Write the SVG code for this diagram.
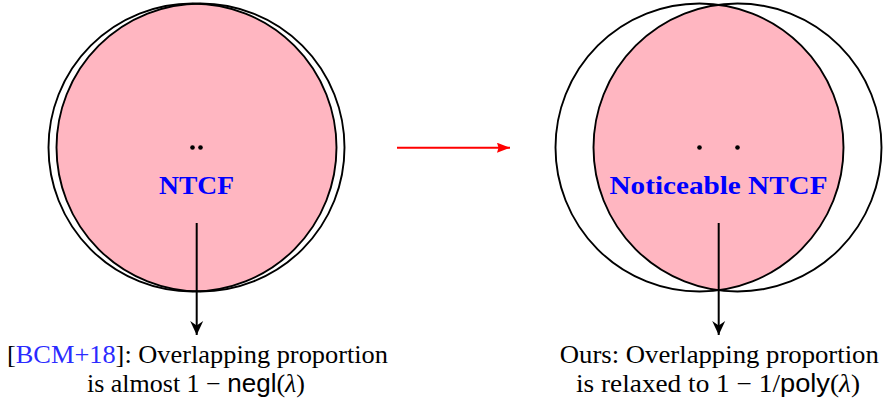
<svg xmlns="http://www.w3.org/2000/svg" width="886" height="402" viewBox="0 0 886 402">
<style>
.ring{fill:none;stroke:#000;stroke-width:1.9}
.lens{fill:#FFB6C1}
.dot{fill:#000}
.lbl{font-family:"Liberation Serif",serif;font-weight:bold;font-size:25px;fill:#0000FF}
.cap{font-family:"Liberation Serif",serif;font-size:25.5px;fill:#000}
.sf{font-family:"Liberation Sans",sans-serif}
.it{font-style:italic}
.cite{fill:#2B2BFF}
.conn{stroke:#000;stroke-width:2;fill:none}
.red{stroke:#FF0000;stroke-width:2;fill:none}
</style>
<defs>
<clipPath id="clipL"><circle cx="200.5" cy="147.5" r="144"/></clipPath>
<clipPath id="clipR"><circle cx="737.5" cy="147.5" r="144"/></clipPath>
<marker id="ah" markerWidth="16" markerHeight="14" refX="14" refY="7" orient="auto" markerUnits="userSpaceOnUse">
<path d="M14,7 L0,0.5 L4.5,7 L0,13.5 Z" fill="#000"/>
</marker>
<marker id="ahr" markerWidth="14" markerHeight="12" refX="13" refY="5" orient="auto" markerUnits="userSpaceOnUse">
<path d="M13,5 L0,0 L1.5,5 L0,10 Z" fill="#FF0000"/>
</marker>
</defs>
<g id="left-ntcf">
<circle class="lens" cx="192.5" cy="147.5" r="144" clip-path="url(#clipL)"/>
<circle class="ring" cx="192.5" cy="147.5" r="144"/>
<circle class="ring" cx="200.5" cy="147.5" r="144"/>
<circle class="dot" cx="192.5" cy="147.5" r="2.3"/>
<circle class="dot" cx="200.5" cy="147.5" r="2.3"/>
<text class="lbl" x="196.5" y="194.3" text-anchor="middle" textLength="75" lengthAdjust="spacingAndGlyphs">NTCF</text>
</g>
<g id="right-ntcf">
<circle class="lens" cx="699.5" cy="147.5" r="144" clip-path="url(#clipR)"/>
<circle class="ring" cx="699.5" cy="147.5" r="144"/>
<circle class="ring" cx="737.5" cy="147.5" r="144"/>
<circle class="dot" cx="699.5" cy="147.5" r="2.3"/>
<circle class="dot" cx="737.5" cy="147.5" r="2.3"/>
<text class="lbl" x="718.5" y="193.8" text-anchor="middle" textLength="218" lengthAdjust="spacingAndGlyphs">Noticeable NTCF</text>
</g>
<g id="left-caption">
<text class="cap" x="197.5" y="363.3" text-anchor="middle" textLength="381" lengthAdjust="spacingAndGlyphs">[<tspan class="cite">BCM+18</tspan>]: Overlapping proportion</text>
<text class="cap" x="196" y="391.7" text-anchor="middle" textLength="218" lengthAdjust="spacingAndGlyphs">is almost 1 − <tspan class="sf">negl</tspan>(<tspan class="it">λ</tspan>)</text>
</g>
<g id="right-caption">
<text class="cap" x="719.3" y="363.3" text-anchor="middle" textLength="319" lengthAdjust="spacingAndGlyphs">Ours: Overlapping proportion</text>
<text class="cap" x="718" y="391.7" text-anchor="middle" textLength="284" lengthAdjust="spacingAndGlyphs">is relaxed to 1 − 1/<tspan class="sf">poly</tspan>(<tspan class="it">λ</tspan>)</text>
</g>
<g id="connectors">
<line class="conn" x1="196.7" y1="223" x2="196.7" y2="335" marker-end="url(#ah)"/>
<line class="conn" x1="718.7" y1="223" x2="718.7" y2="335" marker-end="url(#ah)"/>
<line class="red" x1="397" y1="147.7" x2="510" y2="147.7" marker-end="url(#ahr)"/>
</g>
</svg>
